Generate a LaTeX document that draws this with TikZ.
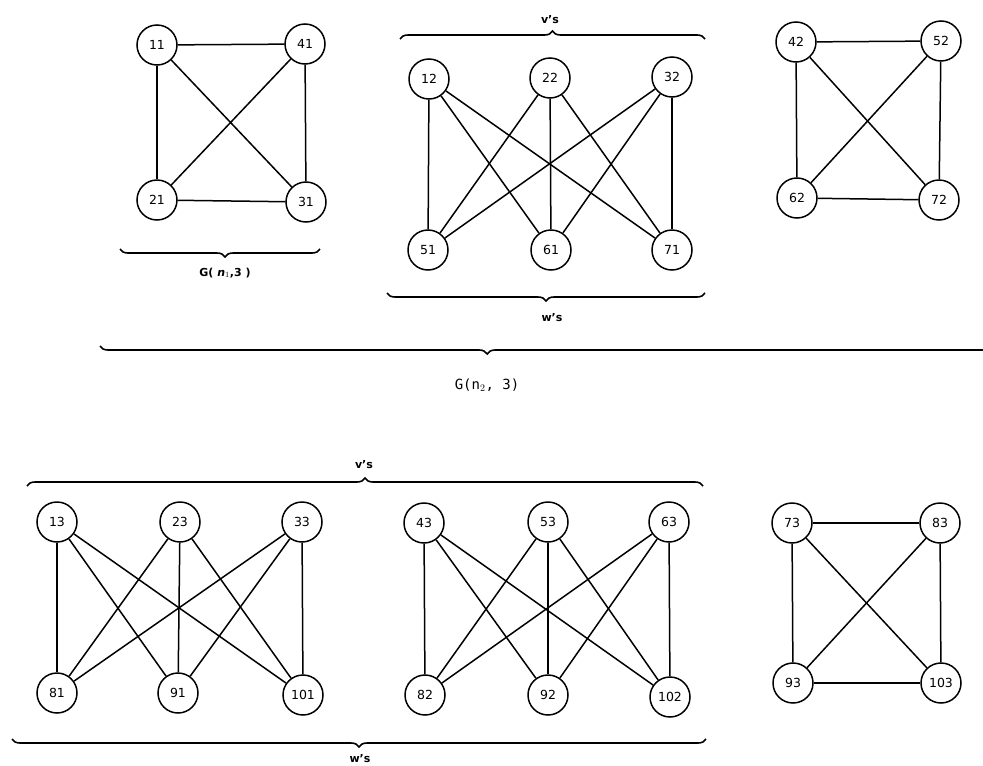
\documentclass[tikz,border=0pt]{standalone}
\usepackage{fontspec}
\setmainfont{DejaVu Sans}
\newfontfamily\monofont{DejaVu Sans Mono}
\usetikzlibrary{decorations.pathreplacing}
\begin{document}
\begin{tikzpicture}[x=1pt,y=-1pt,
  vtx/.style={circle,draw,line width=1.5pt,minimum size=40pt,inner sep=0pt,font=\fontsize{12.5}{12.5}\selectfont},
  edge/.style={line width=1.5pt},
  brc/.style={decorate,decoration={brace,amplitude=8pt},line width=1.6pt},
  lbl/.style={font=\bfseries\fontsize{11}{11}\selectfont}]
\useasboundingbox (0,0) rectangle (983,766);
% group 1
\node[vtx] (n11) at (157,45) {11};
\node[vtx] (n41) at (305,44) {41};
\node[vtx] (n21) at (157,200) {21};
\node[vtx] (n31) at (306,202) {31};
\foreach \a/\b in {n11/n41,n11/n21,n11/n31,n41/n21,n41/n31,n21/n31}
  \draw[edge] (\a) -- (\b);
% group 2
\node[vtx] (n12) at (429,79) {12};
\node[vtx] (n22) at (550,78) {22};
\node[vtx] (n32) at (672,77) {32};
\node[vtx] (n51) at (428,250) {51};
\node[vtx] (n61) at (551,250) {61};
\node[vtx] (n71) at (672,250) {71};
\foreach \a in {n12,n22,n32}
  \foreach \b in {n51,n61,n71}
    \draw[edge] (\a) -- (\b);
% group 3
\node[vtx] (n42) at (796,42) {42};
\node[vtx] (n52) at (941,41) {52};
\node[vtx] (n62) at (797,198) {62};
\node[vtx] (n72) at (939,200) {72};
\foreach \a/\b in {n42/n52,n42/n62,n42/n72,n52/n62,n52/n72,n62/n72}
  \draw[edge] (\a) -- (\b);
% bottom left
\node[vtx] (n13) at (57,522) {13};
\node[vtx] (n23) at (180,522) {23};
\node[vtx] (n33) at (302,522) {33};
\node[vtx] (n81) at (57,693) {81};
\node[vtx] (n91) at (178,693) {91};
\node[vtx] (n101) at (303,695) {101};
\foreach \a in {n13,n23,n33}
  \foreach \b in {n81,n91,n101}
    \draw[edge] (\a) -- (\b);
% bottom middle
\node[vtx] (n43) at (424,523) {43};
\node[vtx] (n53) at (548,522) {53};
\node[vtx] (n63) at (669,522) {63};
\node[vtx] (n82) at (425,695) {82};
\node[vtx] (n92) at (548,695) {92};
\node[vtx] (n102) at (670,697) {102};
\foreach \a in {n43,n53,n63}
  \foreach \b in {n82,n92,n102}
    \draw[edge] (\a) -- (\b);
% bottom right
\node[vtx] (n73) at (792,523) {73};
\node[vtx] (n83) at (940,523) {83};
\node[vtx] (n93) at (793,683) {93};
\node[vtx] (n103) at (941,683) {103};
\foreach \a/\b in {n73/n83,n73/n93,n73/n103,n83/n93,n83/n103,n93/n103}
  \draw[edge] (\a) -- (\b);
% braces
\coordinate (b1l) at (400,39); \coordinate (b1r) at (705,39);
\draw[brc] (b1l) -- (b1r);
\node[lbl] (lv1) at (550,20) {v's};
\coordinate (b2l) at (387,293); \coordinate (b2r) at (705,293);
\draw[brc] (b2r) -- (b2l);
\node[lbl] (lw1) at (552,318) {w's};
\coordinate (b3l) at (120,249); \coordinate (b3r) at (320,249);
\draw[brc,decoration={brace,amplitude=8pt,aspect=0.475}] (b3r) -- (b3l);
\node[lbl] (lg1) at (225,273) {G( \textit{n}$_1$,3 )};
\coordinate (b4l) at (100,346); \coordinate (b4r) at (990,346);
\draw[brc,decoration={brace,amplitude=8pt,aspect=0.565}] (b4r) -- (b4l);
\node[font=\monofont\fontsize{14}{14}\selectfont] (lg2) at (487,385) {G(n$_2$, 3)};
\coordinate (b5l) at (27,486); \coordinate (b5r) at (703,486);
\draw[brc] (b5l) -- (b5r);
\node[lbl] (lv2) at (364,465) {v's};
\coordinate (b6l) at (12,739); \coordinate (b6r) at (706,739);
\draw[brc] (b6r) -- (b6l);
\node[lbl] (lw2) at (360,759) {w's};
\end{tikzpicture}
\end{document}
